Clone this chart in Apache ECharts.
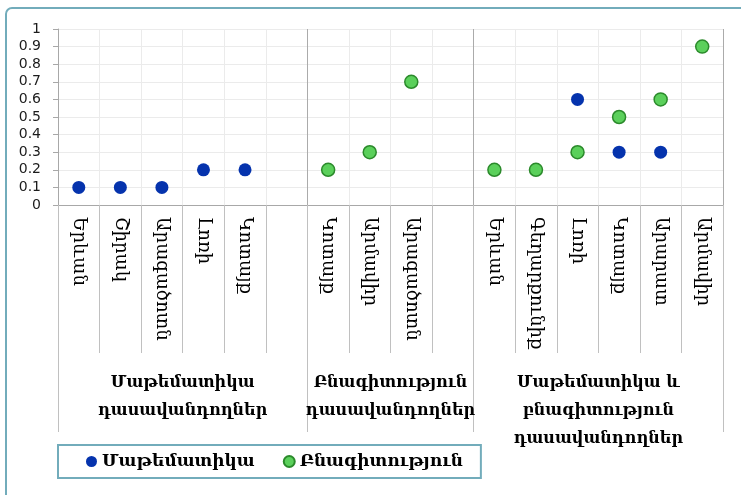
<!DOCTYPE html>
<html>
<head>
<meta charset="utf-8">
<script src="https://cdn.jsdelivr.net/npm/echarts@6/dist/echarts.min.js"></script>
<style>
html,body{margin:0;padding:0;background:#fff;}
#chart{width:741px;height:495px;}
</style>
</head>
<body>
<div id="chart"></div>
<script>
// Category slots (empty strings are blank slots of the original chart)
const categories = ['Երևան','Շիրակ','Արագածոտն','Լոռի','Կոտայք','',
                    'Կոտայք','Արմավիր','Արագածոտն','',
                    'Երևան','Գեղարքունիք','Լոռի','Կոտայք','Արարատ','Արմավիր'];
const groupNames = ['Մաթեմատիկա\nդասավանդողներ','Բնագիտություն\nդասավանդողներ','Մաթեմատիկա և\nբնագիտություն\nդասավանդողներ'];
const groupSizes = [6, 4, 6];
const mathValues    = [0.1,0.1,0.1,0.2,0.2,null, null,null,null,null, null,null,0.6,0.3,0.3,null];
const scienceValues = [null,null,null,null,null,null, 0.2,0.3,0.7,null, 0.2,0.2,0.3,0.5,0.6,0.9];
const seriesNames = ['Մաթեմատիկա','Բնագիտություն'];
const yTicks = [0,0.1,0.2,0.3,0.4,0.5,0.6,0.7,0.8,0.9,1];

const bounds = [0]; groupSizes.forEach(s => bounds.push(bounds[bounds.length-1] + s));
const centers = groupSizes.map((s,i) => bounds[i] + s/2);
const total = bounds[bounds.length-1];

const serif = "'DejaVu Serif','DejaVu Sans',serif";
const chart = echarts.init(document.getElementById('chart'), null, {renderer:'canvas'});
chart.setOption({
  animation: false,
  backgroundColor: '#ffffff',
  graphic: [{
    type: 'rect', silent: true, z: -10,
    shape: {x: 6, y: 8, width: 780, height: 540, r: 6},
    style: {fill: 'none', stroke: '#72acbb', lineWidth: 2}
  }],
  grid: {left: 58, right: 18, top: 29, bottom: 290, containLabel: false},
  legend: {
    left: 58, top: 445,
    data: seriesNames,
    icon: 'circle', itemWidth: 11, itemHeight: 11, itemGap: 28,
    padding: [8, 18, 8, 28],
    borderColor: '#72acbb', borderWidth: 2,
    textStyle: {fontFamily: serif, fontWeight: 'bold', fontSize: 17, color: '#000'}
  },
  xAxis: [{
    type: 'category', data: categories, boundaryGap: true, position: 'bottom',
    axisLine: {show: true, lineStyle: {color: '#a8a8a8', width: 1}},
    axisTick: {show: true, interval: 0, length: 148, lineStyle: {color: '#c0c0c0'}},
    splitLine: {show: true, interval: 0, lineStyle: {color: '#ebebeb'}},
    axisLabel: {interval: 0, rotate: -90, margin: 12, fontFamily: serif, fontSize: 18, color: '#000'}
  }, {
    type: 'value', min: 0, max: total, position: 'bottom', offset: 145,
    axisLine: {show: false},
    axisTick: {show: true, customValues: bounds, length: 82, lineStyle: {color: '#c0c0c0'}},
    splitLine: {show: true, lineStyle: {color: '#ababab'}},
    axisLabel: {
      customValues: centers, margin: 19,
      formatter: v => { const i = centers.indexOf(v); return i >= 0 ? groupNames[i] : ''; },
      fontFamily: serif, fontWeight: 'bold', fontSize: 16, lineHeight: 28, color: '#000'
    }
  }],
  yAxis: {
    type: 'value', min: 0, max: 1, interval: 0.1,
    axisLine: {show: true, lineStyle: {color: '#a8a8a8'}},
    axisTick: {show: true, length: 5, lineStyle: {color: '#a8a8a8'}},
    splitLine: {show: true, lineStyle: {color: '#ebebeb'}},
    axisLabel: {margin: 17, fontFamily: "'DejaVu Sans',sans-serif", fontSize: 14, color: '#1c1c1c',
      formatter: v => { const t = yTicks.find(x => Math.abs(x - v) < 1e-9); return String(t !== undefined ? t : v); }}
  },
  series: [{
    name: seriesNames[0], type: 'scatter', xAxisIndex: 0, data: mathValues,
    symbol: 'circle', symbolSize: 13,
    itemStyle: {color: '#0533ad', opacity: 1}
  }, {
    name: seriesNames[1], type: 'scatter', xAxisIndex: 0, data: scienceValues,
    symbol: 'circle', symbolSize: 13,
    itemStyle: {color: '#5bd05b', borderColor: '#2b8a2b', borderWidth: 1.5, opacity: 1}
  }]
});
</script>
</body>
</html>
